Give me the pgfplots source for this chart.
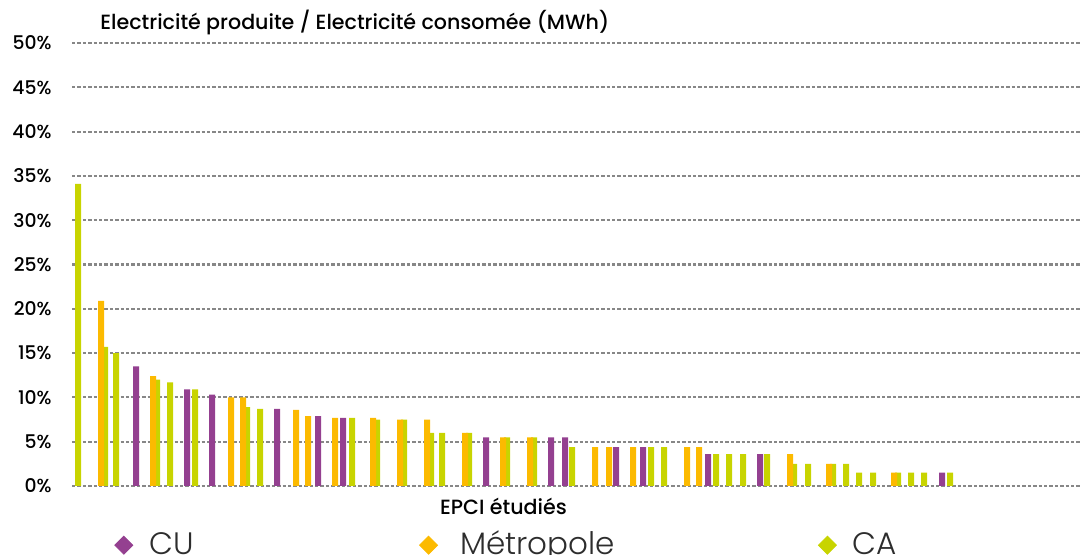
\documentclass[border=0pt]{standalone}
\usepackage{pgfplots}
\pgfplotsset{compat=1.18}
\usepackage{fontspec}
\setmainfont{Poppins}
\newfontfamily\medfont{Poppins Medium}
\newfontfamily\lightfont{Poppins Light}
\definecolor{cu}{RGB}{148,64,144}
\definecolor{metro}{RGB}{252,186,0}
\definecolor{ca}{RGB}{200,212,0}
\definecolor{gridgray}{RGB}{135,135,135}
\definecolor{txt}{RGB}{45,45,45}
\begin{document}
\begin{tikzpicture}[x=1pt,y=1pt]
\path[use as bounding box] (0,0) rectangle (540,277.5);
\begin{axis}[
  at={(36pt,34.5pt)}, anchor=south west,
  scale only axis, width=504pt, height=221.5pt,
  xmin=72, xmax=1080, ymin=0, ymax=50,
  ytick={0,5,...,50}, xtick=\empty,
  yticklabel={\pgfmathprintnumber{\tick}\%},
  /pgf/number format/assume math mode=true,
  axis line style={draw=none},
  major tick length=0pt,
  ymajorgrids,
  major grid style={gridgray, line width=1.05pt, dash pattern=on 1.7pt off 1pt},
  yticklabel style={font=\medfont\fontsize{9.4}{11}\selectfont, text=black, inner sep=0pt, xshift=-10pt},
  ybar, bar width=6, bar shift=0pt,
  clip=false,
  legend columns=3,
  legend style={draw=none, fill=none, inner sep=0pt, at={(0,0)}, anchor=south west,
    xshift=21pt, yshift=-34.5pt,
    cells={anchor=base west},
    nodes={inner sep=0pt, text height=11pt, text depth=0pt, font=\lightfont\fontsize{15.5}{19}\selectfont, text=txt},
    /tikz/every odd column/.style={column sep=8pt},
    /tikz/every even column/.style={column sep=0pt}},
]
\addplot[fill=ca, draw=none, forget plot] coordinates {
(78,34.1) (105,15.7) (116,15.0) (157,12.0) (170,11.7) (195,10.9) (247,8.9) (260,8.7)
(352,7.7) (377,7.5) (404,7.5) (431,6.0) (442,6.0) (469,6.0) (507,5.5) (534,5.5)
(572,4.4) (651,4.4) (664,4.4) (716,3.6) (729,3.6) (743,3.6) (767,3.6) (794,2.5)
(808,2.5) (833,2.5) (846,2.5) (859,1.5) (873,1.5) (898,1.5) (911,1.5) (924,1.5) (950,1.5)};
\addplot[fill=cu, draw=none, forget plot] coordinates {
(136,13.5) (187,10.9) (212,10.3) (277,8.7) (318,7.9) (343,7.7) (486,5.5) (551,5.5)
(565,5.5) (616,4.4) (643,4.4) (708,3.6) (760,3.6) (942,1.5)};
\addplot[fill=metro, draw=none, forget plot] coordinates {
(101,20.9) (153,12.4) (231,10.0) (243,10.0) (296,8.6) (308,7.9) (335,7.7) (373,7.7)
(400,7.5) (427,7.5) (465,6.0) (503,5.5) (530,5.5) (595,4.4) (609,4.4) (633,4.4)
(687,4.4) (699,4.4) (790,3.6) (829,2.5) (894,1.5)};
\addlegendimage{legend image code/.code={\fill[cu] (0pt,0pt) -- (4.5pt,4.5pt) -- (0pt,9pt) -- (-4.5pt,4.5pt) -- cycle;}}
\addlegendentry{\makebox[135pt][l]{CU}}
\addlegendimage{legend image code/.code={\fill[metro] (0pt,0pt) -- (4.5pt,4.5pt) -- (0pt,9pt) -- (-4.5pt,4.5pt) -- cycle;}}
\addlegendentry{\makebox[182pt][l]{\hspace{3pt}Métropole}}
\addlegendimage{legend image code/.code={\fill[ca] (0pt,0pt) -- (4.5pt,4.5pt) -- (0pt,9pt) -- (-4.5pt,4.5pt) -- cycle;}}
\addlegendentry{CA}
\end{axis}
\node[anchor=base west, inner sep=0pt, font=\medfont\fontsize{10.3}{12}\selectfont] at (50pt,262.5pt) {Electricité produite / Electricité consomée (MWh)};
\node[anchor=base, inner sep=0pt, font=\medfont\fontsize{10.3}{12}\selectfont] at (251.75pt,20pt) {EPCI étudiés};
\end{tikzpicture}
\end{document}
